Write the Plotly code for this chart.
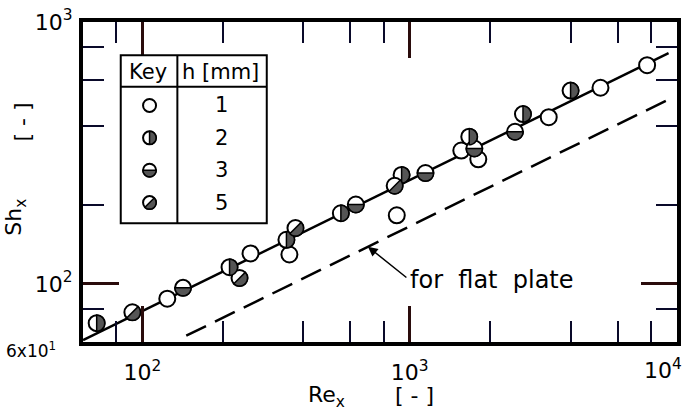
import numpy as np
import plotly.graph_objects as go

# Local Sherwood number vs local Reynolds number, grouped by step height h [mm]
re_h1 = [124, 254, 355, 895, 1560, 1806, 3313, 5174, 7730]
sh_h1 = [87.8, 130.7, 129.5, 182.8, 323, 299, 433, 561, 684]
re_h2 = [67.5, 212, 346, 553, 933, 1671, 2654, 3999]
sh_h2 = [70.8, 115.8, 147.4, 186.1, 260.6, 364.7, 445, 547]
re_h3 = [142, 629, 1146, 1746, 2478]
sh_h3 = [96.6, 201, 265, 328.8, 381]
re_h5 = [91.8, 231, 374, 879]
sh_h5 = [77.9, 105.3, 163.4, 237]

# Correlation through the data and the flat-plate line (end points, log-log straight)
re_fit = [60, 9300]
sh_fit = [61, 760]
re_flat = [146, 9300]
sh_flat = [63.4, 506]

# Pointer for the flat-plate label
re_ptr, sh_ptr = 698, 138.7

x_tickvals = [100, 1000, 10000]
x_ticktext = ["10<sup>2</sup>", "10<sup>3</sup>", ""]
x_minor = [80, 200, 400, 600, 800, 2000, 4000, 6000, 8000]
y_tickvals = [60, 100, 1000]
y_ticktext = ["", "10<sup>2</sup>", "10<sup>3</sup>"]
y_minor = [80, 200, 400, 600, 800]

key_heights = ["1", "2", "3", "5"]

W, H = 687, 418
ML, MR, MT, MB = 83, 6, 16, 76
PW, PH = W - ML - MR, H - MT - MB
FONT = "DejaVu Sans"
GRAY = "#555555"
TICK = "#2a0c0c"
LONG, SHORT = 36, 21


def fx(px):
    return (px - ML) / PW


def fy(py):
    return (H - MB - py) / PH


def half_path(a0, r, n=24):
    pts = []
    for i in range(n + 1):
        a = np.radians(a0 + 180 * i / n)
        pts.append((r * np.cos(a), r * np.sin(a)))
    return "M " + " L ".join(f"{x:.2f},{y:.2f}" for x, y in pts) + " Z"


# start angle of the shaded half for each symbol (h=1 is open)
half_start = {"2": -90, "3": 180, "5": -135}

fig = go.Figure()

fig.add_trace(go.Scatter(x=re_fit, y=sh_fit, mode="lines",
                         line=dict(color="black", width=2.5), hoverinfo="skip"))
fig.add_trace(go.Scatter(x=re_flat, y=sh_flat, mode="lines",
                         line=dict(color="black", width=2.5, dash="22px,10px"), hoverinfo="skip"))

groups = [("1", re_h1, sh_h1), ("2", re_h2, sh_h2), ("3", re_h3, sh_h3), ("5", re_h5, sh_h5)]
shapes = []
for h, xs, ys in groups:
    fig.add_trace(go.Scatter(x=xs, y=ys, mode="markers", name=f"h = {h} mm",
                             marker=dict(symbol="circle", size=16, color="white",
                                         line=dict(color="black", width=2))))
    if h in half_start:
        p = half_path(half_start[h], 8)
        for xv, yv in zip(xs, ys):
            shapes.append(dict(type="path", xref="x", yref="y",
                               xsizemode="pixel", ysizemode="pixel",
                               xanchor=xv, yanchor=yv, path=p,
                               fillcolor=GRAY, line=dict(color="black", width=1.5),
                               layer="above"))

# Key table
tl, tr, tt, tb = 121, 268, 50, 221
tsep, tdiv = 82, 178
shapes.append(dict(type="rect", xref="paper", yref="paper",
                   x0=fx(tl), x1=fx(tr), y0=fy(tb), y1=fy(tt),
                   line=dict(color="black", width=2), fillcolor="white", layer="above"))
shapes.append(dict(type="line", xref="paper", yref="paper",
                   x0=fx(tl), x1=fx(tr), y0=fy(tsep), y1=fy(tsep),
                   line=dict(color="black", width=2), layer="above"))
shapes.append(dict(type="line", xref="paper", yref="paper",
                   x0=fx(tdiv), x1=fx(tdiv), y0=fy(tb), y1=fy(tt),
                   line=dict(color="black", width=2), layer="above"))


def label(px, py, text, size=22, angle=0):
    return dict(x=fx(px), y=fy(py), xref="paper", yref="paper", text=text,
                showarrow=False, xanchor="center", yanchor="middle", textangle=angle,
                font=dict(size=size, family=FONT, color="black"))


annotations = []
row_y = [101, 134, 167, 200]
for h, ry in zip(key_heights, row_y):
    shapes.append(dict(type="circle", xref="paper", yref="paper",
                       xsizemode="pixel", ysizemode="pixel",
                       xanchor=fx(150), yanchor=fy(ry), x0=-6.5, x1=6.5, y0=-6.5, y1=6.5,
                       fillcolor="white", line=dict(color="black", width=2), layer="above"))
    if h in half_start:
        shapes.append(dict(type="path", xref="paper", yref="paper",
                           xsizemode="pixel", ysizemode="pixel",
                           xanchor=fx(150), yanchor=fy(ry), path=half_path(half_start[h], 6.5),
                           fillcolor=GRAY, line=dict(color="black", width=1.5), layer="above"))
    annotations.append(label(222, ry, h, 21))

annotations += [
    label(148, 67, "Key", 21),
    label(221, 67, "h [mm]", 21),
    # corner tick labels
    label(31, 350, "6x10<sup>1</sup>", 17),
    label(667, 369, "10<sup>4</sup>"),
    # axis titles
    label(328, 398, "Re<sub>x</sub>"),
    label(417, 396, "[ - ]"),
    label(15, 215, "Sh<sub>x</sub>", angle=-90),
    label(22, 118, "[ - ]", angle=-90),
    # flat plate label with pointer
    dict(x=np.log10(re_ptr), y=np.log10(sh_ptr), xref="x", yref="y", text="",
         showarrow=True, arrowhead=2, arrowsize=1.3, arrowwidth=1.5, arrowcolor="black",
         ax=40, ay=32),
    label(495, 279, "for&nbsp; flat&nbsp; plate", 24),
]

axis_common = dict(type="log", showline=True, linewidth=4, linecolor="black", mirror="ticks",
                   ticks="inside", ticklen=LONG, tickwidth=3, tickcolor=TICK,
                   showgrid=False, zeroline=False, ticklabeloverflow="allow",
                   tickfont=dict(size=22, family=FONT, color="black"),
                   tickmode="array")

fig.update_layout(
    width=W, height=H,
    margin=dict(l=ML, r=MR, t=MT, b=MB),
    paper_bgcolor="white", plot_bgcolor="white",
    showlegend=False,
    xaxis=dict(axis_common, range=[np.log10(60), 4], tickvals=x_tickvals, ticktext=x_ticktext,
               minor=dict(tickmode="array", tickvals=x_minor, ticks="inside", ticklen=SHORT,
                          tickwidth=2, tickcolor="#0a0a2a", showgrid=False),
               ticklabelstandoff=8),
    yaxis=dict(axis_common, range=[np.log10(60), 3], tickvals=y_tickvals, ticktext=y_ticktext,
               minor=dict(tickmode="array", tickvals=y_minor, ticks="inside", ticklen=SHORT,
                          tickwidth=2, tickcolor="#0a0a2a", showgrid=False),
               ticklabelstandoff=2),
    shapes=shapes,
    annotations=annotations,
)

fig.write_html("out.html")
